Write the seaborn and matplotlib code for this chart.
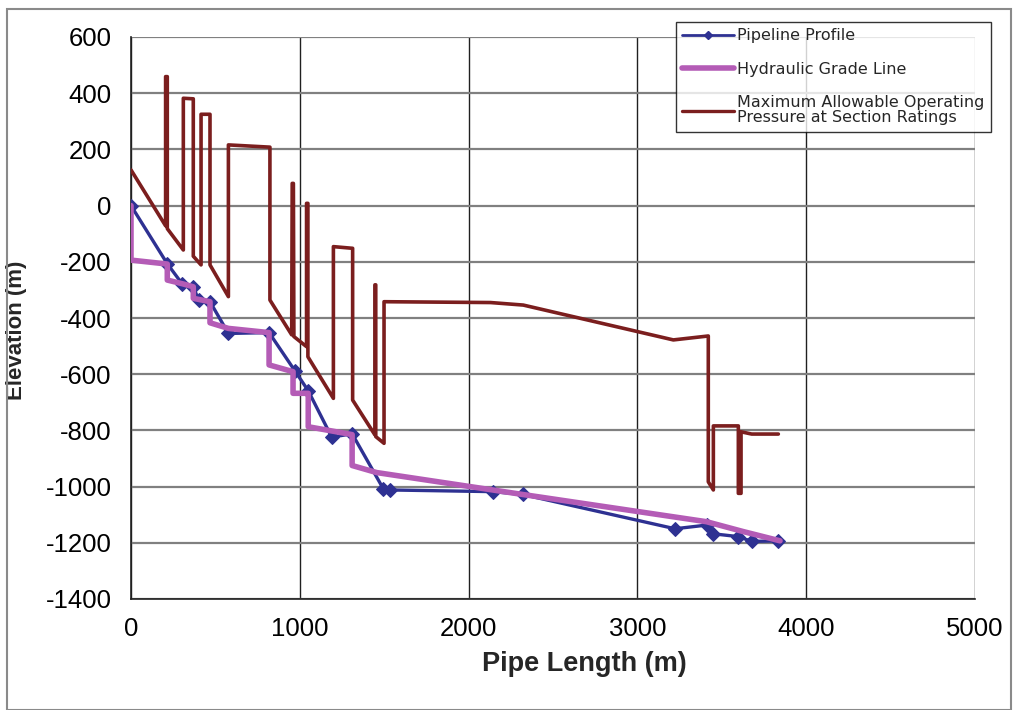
import matplotlib
matplotlib.use("Agg")
import matplotlib.pyplot as plt
import seaborn as sns
import pandas as pd
from matplotlib.patches import Rectangle
from matplotlib.lines import Line2D

# ---------------- data ----------------
profile_x = [0, 215, 305, 369, 400, 468, 577, 818, 971, 1050, 1189, 1310,
             1495, 1534, 2146, 2320, 3223, 3410, 3450, 3598, 3677, 3835]
profile_y = [0, -207, -280, -289, -335, -342, -455, -452, -588, -659, -824, -812,
             -1008, -1012, -1018, -1028, -1150, -1137, -1168, -1178, -1195, -1193]

hgl_x = [0, 0, 215, 215, 310, 369, 369, 468, 468, 577, 818, 818, 960, 960,
         1050, 1050, 1310, 1310, 1455, 2320, 3410, 3627, 3845]
hgl_y = [0, -194, -208, -265, -279, -289, -330, -342, -417, -437, -452, -567, -591, -668,
         -668, -787, -815, -925, -950, -1028, -1125, -1160, -1193]

maop_x = [0, 205, 205, 215, 215, 310, 310, 369, 369, 415, 415, 468, 468, 577, 577,
          823, 823, 952, 955, 962, 965, 1040, 1040, 1048, 1048, 1199, 1199, 1313,
          1313, 1445, 1445, 1450, 1450, 1499, 1499, 2130, 2324, 3213, 3420, 3420,
          3450, 3450, 3598, 3598, 3614, 3614, 3677, 3835]
maop_y = [127, -72, 459, 459, -82, -158, 382, 380, -180, -211, 325, 325, -211, -324, 216,
          208, -336, -460, 79, 79, -466, -502, 8, 8, -538, -686, -146, -152,
          -692, -816, -282, -282, -822, -846, -342, -345, -354, -478, -464, -983,
          -1012, -784, -784, -1024, -1024, -805, -813, -813]

series_names = ["Pipeline Profile", "Hydraulic Grade Line",
                "Maximum Allowable Operating\nPressure at Section Ratings"]
x_ticks = [0, 1000, 2000, 3000, 4000, 5000]
y_ticks = [-1400, -1200, -1000, -800, -600, -400, -200, 0, 200, 400, 600]

# ---------------- style ----------------
sns.set_style("white")
plt.rcParams["font.family"] = ["Liberation Sans", "DejaVu Sans"]

C_BLUE = "#2E3192"
C_MAG = "#B45CB6"
C_RED = "#7B1E1E"

W, H = 1017, 710
fig = plt.figure(figsize=(W / 100, H / 100), dpi=100)
ax = fig.add_axes([131 / W, 1 - 599 / H, 844 / W, 562 / H])

df_p = pd.DataFrame({"x": profile_x, "y": profile_y})
df_h = pd.DataFrame({"x": hgl_x, "y": hgl_y})
df_m = pd.DataFrame({"x": maop_x, "y": maop_y})

sns.lineplot(data=df_p, x="x", y="y", sort=False, estimator=None, ax=ax,
             color=C_BLUE, lw=2.4, marker="D", markersize=7,
             markeredgecolor=C_BLUE, zorder=3)
sns.lineplot(data=df_h, x="x", y="y", sort=False, estimator=None, ax=ax,
             color=C_MAG, lw=4.0, zorder=4)
sns.lineplot(data=df_m, x="x", y="y", sort=False, estimator=None, ax=ax,
             color=C_RED, lw=2.6, zorder=5)

ax.set_xlim(0, 5000)
ax.set_ylim(-1400, 600)
ax.set_xticks(x_ticks)
ax.set_yticks(y_ticks)
ax.set_xticklabels([str(v) for v in x_ticks])
ax.set_yticklabels([str(v) for v in y_ticks])

ax.grid(axis="y", color="#808080", lw=1.6, zorder=0)
ax.grid(axis="x", color="#202020", lw=1.0, zorder=0)
ax.set_axisbelow(True)

for s in ["top", "right"]:
    ax.spines[s].set_visible(False)
for s in ["left", "bottom"]:
    ax.spines[s].set_color("#202020")
    ax.spines[s].set_linewidth(1.2)

ax.tick_params(axis="both", direction="out", length=8, width=1.0,
               color="#202020", labelsize=18.5, labelcolor="black")
ax.tick_params(axis="y", pad=6)
ax.tick_params(axis="x", pad=5)

ax.set_xlabel("Pipe Length (m)", fontsize=19.5, fontweight="bold")
ax.set_ylabel("Elevation (m)", fontsize=16, fontweight="bold")
ax.xaxis.set_label_coords((584 - 131) / 844, (599 - 651) / 562)
ax.yaxis.set_label_coords((27 - 131) / 844, (599 - 330) / 562)

handles = [
    Line2D([0, 0.5, 1], [0, 0, 0], color=C_BLUE, lw=2.0, marker="D",
           markersize=4, markevery=[1], markeredgecolor=C_BLUE),
    Line2D([], [], color=C_MAG, lw=4.0),
    Line2D([], [], color=C_RED, lw=2.4),
]
leg = fig.legend(handles, series_names, loc="upper left",
                 bbox_to_anchor=(676 / W, 1 - 22 / H), borderaxespad=0,
                 frameon=True, fancybox=False, shadow=False,
                 prop={"family": "DejaVu Sans", "size": 11.5},
                 handlelength=3.2, handletextpad=0.25, labelspacing=1.15,
                 borderpad=0.4)
leg.get_frame().set_edgecolor("black")
leg.get_frame().set_linewidth(1.0)
for t in leg.get_texts():
    t.set_linespacing(1.0)

if ax.get_legend():
    ax.get_legend().remove()

fig.patches.append(Rectangle((7 / W, 0), (1011 - 7) / W, 1 - 9 / H,
                             transform=fig.transFigure, fill=False,
                             edgecolor="#8a8a8a", lw=1.5))

fig.savefig("out.png", dpi=100)
